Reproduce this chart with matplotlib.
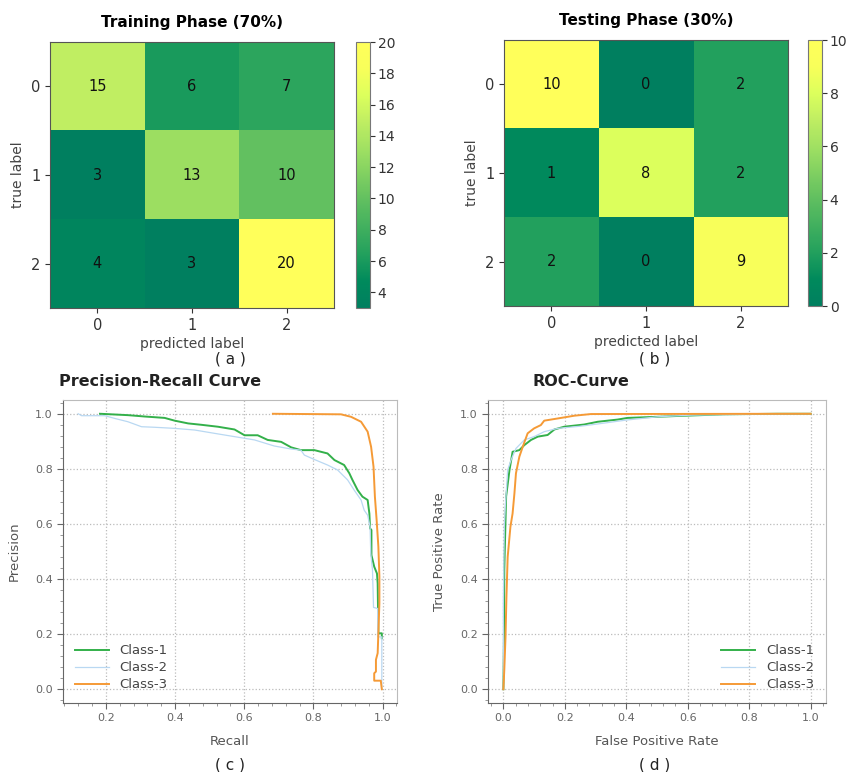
import matplotlib

matplotlib.use("Agg")
import matplotlib.pyplot as plt
import numpy as np
from matplotlib.colors import LinearSegmentedColormap
from matplotlib.ticker import AutoMinorLocator

W, H = 850, 772

# confusion matrices
LABELS = ["0", "1", "2"]
TRAIN_CM = [[15, 6, 7], [3, 13, 10], [4, 3, 20]]
TEST_CM = [[10, 0, 2], [1, 8, 2], [2, 0, 9]]
TRAIN_TICKS = [4, 6, 8, 10, 12, 14, 16, 18, 20]
TEST_TICKS = [0, 2, 4, 6, 8, 10]

# precision-recall curves
PR_C1_RECALL = [0.183, 0.264, 0.313, 0.370, 0.399, 0.438, 0.476, 0.524, 0.572, 0.601,
                0.639, 0.668, 0.707, 0.736, 0.764, 0.803, 0.841, 0.861, 0.889, 0.904,
                0.913, 0.928, 0.942, 0.957, 0.962, 0.964, 0.968, 0.968, 0.976, 0.984,
                0.986, 0.988, 0.998, 0.998]
PR_C1_PREC = [1.000, 0.995, 0.990, 0.985, 0.975, 0.965, 0.960, 0.953, 0.943, 0.922,
              0.922, 0.905, 0.898, 0.878, 0.868, 0.868, 0.856, 0.832, 0.814, 0.784,
              0.760, 0.723, 0.699, 0.687, 0.638, 0.584, 0.578, 0.487, 0.445, 0.420,
              0.384, 0.203, 0.203, 0.185]
PR_C2_RECALL = [0.120, 0.130, 0.197, 0.226, 0.264, 0.303, 0.341, 0.399, 0.457, 0.514,
                0.572, 0.630, 0.687, 0.736, 0.764, 0.774, 0.803, 0.841, 0.870, 0.899,
                0.918, 0.938, 0.947, 0.957, 0.964, 0.966, 0.971, 0.974, 0.986, 0.986,
                0.998, 0.998]
PR_C2_PREC = [1.000, 0.993, 0.993, 0.983, 0.971, 0.953, 0.951, 0.947, 0.941, 0.929,
              0.917, 0.905, 0.883, 0.872, 0.868, 0.850, 0.834, 0.814, 0.796, 0.760,
              0.723, 0.687, 0.650, 0.632, 0.590, 0.493, 0.433, 0.297, 0.293, 0.190,
              0.190, 0.000]
PR_C3_RECALL = [0.683, 0.880, 0.909, 0.938, 0.957, 0.967, 0.974, 0.978, 0.983, 0.988,
                0.991, 0.991, 0.988, 0.986, 0.981, 0.981, 0.976, 0.976, 0.995, 0.998]
PR_C3_PREC = [1.000, 0.998, 0.989, 0.971, 0.935, 0.880, 0.808, 0.699, 0.614, 0.518,
              0.409, 0.312, 0.203, 0.131, 0.107, 0.064, 0.058, 0.031, 0.031, 0.000]

# ROC curves
ROC_C1_FPR = [0.000, 0.002, 0.003, 0.009, 0.020, 0.030, 0.052, 0.068, 0.090, 0.112,
              0.144, 0.166, 0.198, 0.263, 0.307, 0.372, 0.404, 0.502, 0.567, 0.718,
              0.892, 1.000]
ROC_C1_TPR = [0.000, 0.200, 0.433, 0.700, 0.796, 0.862, 0.868, 0.886, 0.905, 0.917,
              0.923, 0.943, 0.953, 0.961, 0.971, 0.979, 0.985, 0.989, 0.992, 0.998,
              1.000, 1.000]
ROC_C2_FPR = [0.000, 0.000, 0.003, 0.007, 0.014, 0.025, 0.041, 0.068, 0.100, 0.133,
              0.177, 0.252, 0.307, 0.399, 0.502, 0.610, 0.827, 1.000]
ROC_C2_TPR = [0.000, 0.312, 0.590, 0.675, 0.796, 0.832, 0.874, 0.905, 0.917, 0.935,
              0.947, 0.955, 0.963, 0.977, 0.989, 0.995, 0.999, 1.000]
ROC_C3_FPR = [0.000, 0.003, 0.007, 0.010, 0.014, 0.023, 0.030, 0.036, 0.041, 0.052,
              0.063, 0.079, 0.100, 0.122, 0.133, 0.177, 0.231, 0.285, 1.000]
ROC_C3_TPR = [0.000, 0.070, 0.190, 0.336, 0.480, 0.590, 0.638, 0.711, 0.784, 0.844,
              0.880, 0.929, 0.947, 0.959, 0.975, 0.983, 0.993, 0.999, 1.000]

CLASS_COLORS = ["#33b04a", "#b9d8f2", "#f59a36"]
CLASS_WIDTHS = [1.4, 0.9, 1.4]
CLASS_NAMES = ["Class-1", "Class-2", "Class-3"]

# a more saturated take on "summer", as in the picture
CM_GREEN_YELLOW = LinearSegmentedColormap.from_list(
    "green_yellow",
    [(0.0, "#007f5f"), (0.1, "#008a5c"), (0.2, "#22a05d"), (0.41, "#62c060"),
     (0.59, "#9ddf62"), (0.71, "#c2ef62"), (0.8, "#dcff5c"), (0.9, "#f8ff5a"),
     (1.0, "#ffff5a")],
)


def box(l, t, r, b):
    return [l / W, 1 - b / H, (r - l) / W, (b - t) / H]


def confusion_panel(fig, ax_box, cb_box, cm, vmin, vmax, ticks, title):
    ax = fig.add_axes(box(*ax_box))
    cax = fig.add_axes(box(*cb_box))
    cm = np.asarray(cm)
    im = ax.imshow(cm, cmap=CM_GREEN_YELLOW, vmin=vmin, vmax=vmax, aspect="auto")
    for i in range(cm.shape[0]):
        for j in range(cm.shape[1]):
            ax.text(j, i, str(cm[i, j]), ha="center", va="center", fontsize=10.5, color="#111111")
    ax.set_xticks(range(len(LABELS)), LABELS)
    ax.set_yticks(range(len(LABELS)), LABELS)
    ax.tick_params(labelsize=10.5, colors="#333333")
    ax.set_xlabel("predicted label", fontsize=10, color="#444444", labelpad=3)
    ax.set_ylabel("true label", fontsize=10, color="#444444")
    ax.set_title(title, fontsize=11, fontweight="bold", pad=11)
    for s in ax.spines.values():
        s.set_color("#555555")
    cb = fig.colorbar(im, cax=cax, ticks=ticks)
    cb.ax.tick_params(labelsize=10, colors="#333333", pad=2)
    cb.outline.set_edgecolor("#777777")
    return ax


def curve_panel(ax, series, xticks, xlabel, ylabel, legend_loc):
    for (xs, ys), name, color, lw in zip(series, CLASS_NAMES, CLASS_COLORS, CLASS_WIDTHS):
        ax.plot(xs, ys, color=color, lw=lw, label=name)
    ax.set_xticks(xticks)
    ax.set_yticks([0.0, 0.2, 0.4, 0.6, 0.8, 1.0])
    ax.xaxis.set_minor_locator(AutoMinorLocator(5))
    ax.yaxis.set_minor_locator(AutoMinorLocator(5))
    ax.tick_params(which="major", labelsize=8, colors="#666666", length=4)
    ax.tick_params(which="minor", colors="#888888", length=2)
    ax.grid(True, which="major", linestyle=":", color="#bbbbbb", lw=0.9)
    for side in ("left", "bottom"):
        ax.spines[side].set_color("#666666")
    for side in ("top", "right"):
        ax.spines[side].set_color("#bbbbbb")
    ax.set_xlabel(xlabel, fontsize=9.5, color="#555555", labelpad=8)
    ax.set_ylabel(ylabel, fontsize=9.5, color="#555555", labelpad=10)
    ax.legend(loc=legend_loc, frameon=False, fontsize=9.5, labelcolor="#444444",
              handlelength=2.6, borderaxespad=0.5, labelspacing=0.3)


def main():
    fig = plt.figure(figsize=(W / 100, H / 100), dpi=100)

    confusion_panel(fig, (50, 42, 334, 308), (356, 42, 370, 308), TRAIN_CM, 3, 20,
                    TRAIN_TICKS, "Training Phase (70%)")
    confusion_panel(fig, (504, 40, 788, 306), (808, 40, 822, 306), TEST_CM, 0, 10,
                    TEST_TICKS, "Testing Phase (30%)")

    ax_pr = fig.add_axes(box(63, 400, 397, 703))
    curve_panel(ax_pr,
                [(PR_C1_RECALL, PR_C1_PREC), (PR_C2_RECALL, PR_C2_PREC), (PR_C3_RECALL, PR_C3_PREC)],
                [0.2, 0.4, 0.6, 0.8, 1.0], "Recall", "Precision", "lower left")
    ax_roc = fig.add_axes(box(488, 400, 826, 703))
    curve_panel(ax_roc,
                [(ROC_C1_FPR, ROC_C1_TPR), (ROC_C2_FPR, ROC_C2_TPR), (ROC_C3_FPR, ROC_C3_TPR)],
                [0.0, 0.2, 0.4, 0.6, 0.8, 1.0], "False Positive Rate", "True Positive Rate",
                "lower right")

    fig.text(59 / W, 1 - 381 / H, "Precision-Recall Curve", fontsize=11.5, fontweight="bold",
             ha="left", va="center", color="#222222")
    fig.text(532 / W, 1 - 381 / H, "ROC-Curve", fontsize=11.5, fontweight="bold",
             ha="left", va="center", color="#222222")

    for x, y, tag in [(230, 359, "( a )"), (655, 359, "( b )"), (230, 765, "( c )"), (655, 765, "( d )")]:
        fig.text(x / W, 1 - y / H, tag, fontsize=11, ha="center", va="center", color="#222222")

    fig.savefig("out.png", dpi=100, facecolor="white")
    plt.close(fig)


if __name__ == "__main__":
    main()
